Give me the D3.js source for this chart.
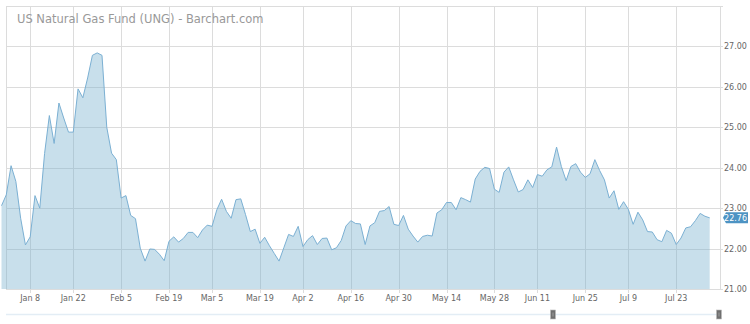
<!DOCTYPE html>
<html>
<head>
<meta charset="utf-8">
<script src="https://cdn.jsdelivr.net/npm/d3@7"></script>
<style>
  html, body { margin: 0; padding: 0; background: #fff; }
  svg { display: block; font-family: "DejaVu Sans", sans-serif; }
</style>
</head>
<body>
<div id="chart"></div>
<script>
// Daily closes of UNG, one per trading day from Dec 28 2017 to Aug 1 2018
const closes = [
  23.06, 23.33, 24.05, 23.66, 22.75, 22.09, 22.29, 23.31, 23.00, 24.35,
  25.29, 24.60, 25.60, 25.23, 24.88, 24.88, 25.95, 25.73, 26.22, 26.78,
  26.84, 26.78, 25.00, 24.36, 24.20, 23.25, 23.31, 22.82, 22.74, 22.01,
  21.69, 21.99, 21.98, 21.86, 21.70, 22.18, 22.29, 22.16, 22.25, 22.40,
  22.40, 22.27, 22.46, 22.58, 22.55, 22.96, 23.22, 22.92, 22.75, 23.21,
  23.23, 22.84, 22.42, 22.48, 22.13, 22.28, 22.07, 21.88, 21.69, 22.02,
  22.35, 22.30, 22.55, 22.05, 22.22, 22.32, 22.10, 22.25, 22.26, 21.97,
  22.02, 22.20, 22.56, 22.69, 22.62, 22.61, 22.10, 22.56, 22.64, 22.92,
  22.94, 23.04, 22.60, 22.57, 22.82, 22.48, 22.31, 22.16, 22.30, 22.33,
  22.31, 22.88, 22.96, 23.14, 23.14, 22.96, 23.26, 23.21, 23.15, 23.72,
  23.91, 24.01, 23.98, 23.47, 23.39, 23.89, 24.02, 23.70, 23.40, 23.46,
  23.70, 23.51, 23.83, 23.79, 23.95, 24.02, 24.51, 24.03, 23.68, 24.03,
  24.10, 23.89, 23.76, 23.85, 24.20, 23.93, 23.70, 23.25, 23.43, 22.97,
  23.16, 22.97, 22.60, 22.90, 22.71, 22.42, 22.41, 22.22, 22.17, 22.45,
  22.38, 22.10, 22.26, 22.51, 22.54, 22.69, 22.87, 22.80, 22.76
];

const firstDay = "2017-12-28";
const lastDay = "2018-08-01";
const holidays = ["2018-01-01", "2018-01-15", "2018-02-19", "2018-03-30", "2018-05-28", "2018-07-04"];
const yTicks = [21, 22, 23, 24, 25, 26, 27];
const tickStart = "2018-01-08";
const tickEnd = "2018-07-24";
const title = "US Natural Gas Fund (UNG) - Barchart.com";

const width = 750, height = 324;
const plot = { left: 6, right: 720, top: 6, bottom: 289 };

const parse = d3.timeParse("%Y-%m-%d");
const fmtKey = d3.timeFormat("%Y-%m-%d");
const holidaySet = new Set(holidays);

// trading days (weekdays, not exchange holidays)
const days = d3.timeDay.range(parse(firstDay), d3.timeDay.offset(parse(lastDay), 1))
  .filter(d => d.getDay() !== 0 && d.getDay() !== 6 && !holidaySet.has(fmtKey(d)));

const data = days.map((d, i) => ({ date: d, i: i, value: closes[i] }))
  .filter(d => d.value !== undefined);

// ordinal-style axis: every trading day gets the same width
const x = d3.scaleLinear()
  .domain([0, data.length - 1])
  .range([1.5, 709.7]);

const y = d3.scaleLinear()
  .domain([21, 28])
  .range([plot.bottom, plot.top]);

const ticks = d3.timeDay.range(parse(tickStart), parse(tickEnd), 14).map(t => ({
  label: d3.timeFormat("%b %-d")(t),
  i: d3.bisector(d => d.date).left(data, t)
}));

const svg = d3.select("#chart").append("svg")
  .attr("width", width)
  .attr("height", height);

// grid
const grid = svg.append("g")
  .attr("stroke", "#dcdcdc")
  .attr("stroke-width", 1)
  .attr("shape-rendering", "crispEdges");

grid.selectAll("line.v")
  .data(ticks)
  .join("line")
  .attr("class", "v")
  .attr("x1", d => Math.round(x(d.i)) + 0.5)
  .attr("x2", d => Math.round(x(d.i)) + 0.5)
  .attr("y1", plot.top)
  .attr("y2", plot.bottom + 4);

grid.selectAll("line.h")
  .data(d3.range(21, 29))
  .join("line")
  .attr("class", "h")
  .attr("x1", plot.left)
  .attr("x2", plot.right + 3)
  .attr("y1", d => Math.round(y(d)) + 0.5)
  .attr("y2", d => Math.round(y(d)) + 0.5);

grid.append("line")
  .attr("x1", plot.left + 0.5).attr("x2", plot.left + 0.5)
  .attr("y1", plot.top).attr("y2", plot.bottom);
grid.append("line")
  .attr("x1", plot.right + 0.5).attr("x2", plot.right + 0.5)
  .attr("y1", plot.top).attr("y2", plot.bottom);

// area + line
const area = d3.area()
  .x(d => x(d.i))
  .y0(y(21))
  .y1(d => y(d.value));

const line = d3.line()
  .x(d => x(d.i))
  .y(d => y(d.value));

svg.append("path")
  .datum(data)
  .attr("fill", "rgba(118,174,204,0.4)")
  .attr("d", area);

svg.append("path")
  .datum(data)
  .attr("fill", "none")
  .attr("stroke", "#7bb0d3")
  .attr("stroke-width", 1)
  .attr("stroke-linejoin", "round")
  .attr("d", line);

// title
svg.append("text")
  .attr("x", 17)
  .attr("y", 23)
  .attr("fill", "#999")
  .attr("font-size", 11.5)
  .text(title);

// x labels
svg.append("g")
  .selectAll("text")
  .data(ticks)
  .join("text")
  .attr("x", d => x(d.i))
  .attr("y", 301)
  .attr("text-anchor", "middle")
  .attr("fill", "#666")
  .attr("font-size", 8)
  .text(d => d.label);

// y labels on the right
const yFmt = d3.format(".2f");
svg.append("g")
  .selectAll("text")
  .data(yTicks)
  .join("text")
  .attr("x", 724)
  .attr("y", d => y(d) + 3)
  .attr("fill", "#666")
  .attr("font-size", 8)
  .text(d => yFmt(d));

// last price marker
const last = data[data.length - 1];
const ly = y(last.value);
const marker = svg.append("g");
marker.append("path")
  .attr("d", `M723,${ly} L726,${ly - 5.5} L748,${ly - 5.5} L748,${ly + 5.5} L726,${ly + 5.5} Z`)
  .attr("fill", "#4d93c3");
marker.append("text")
  .attr("x", 747)
  .attr("y", ly + 3)
  .attr("text-anchor", "end")
  .attr("fill", "#fff")
  .attr("font-size", 8)
  .text(yFmt(last.value));

// navigator scrollbar
const nav = d3.scaleLinear().domain([0, 1]).range([plot.left, 719]);
const navWindow = [0.767, 1];
svg.append("line")
  .attr("x1", nav(0)).attr("x2", nav(1))
  .attr("y1", 314.5).attr("y2", 314.5)
  .attr("stroke", "#e3edf5")
  .attr("stroke-width", 1.5);

const handles = svg.append("g")
  .selectAll("g")
  .data(navWindow)
  .join("g")
  .attr("transform", d => `translate(${Math.round(nav(d))},310)`);
handles.append("rect")
  .attr("x", -2.5).attr("y", 0)
  .attr("width", 5).attr("height", 9)
  .attr("fill", "#6f6f6f")
  .attr("stroke", "#bbb")
  .attr("stroke-width", 0.6);
handles.append("line")
  .attr("x1", 0).attr("x2", 0)
  .attr("y1", 2.5).attr("y2", 6.5)
  .attr("stroke", "#aaa")
  .attr("stroke-width", 0.8);
</script>
</body>
</html>
